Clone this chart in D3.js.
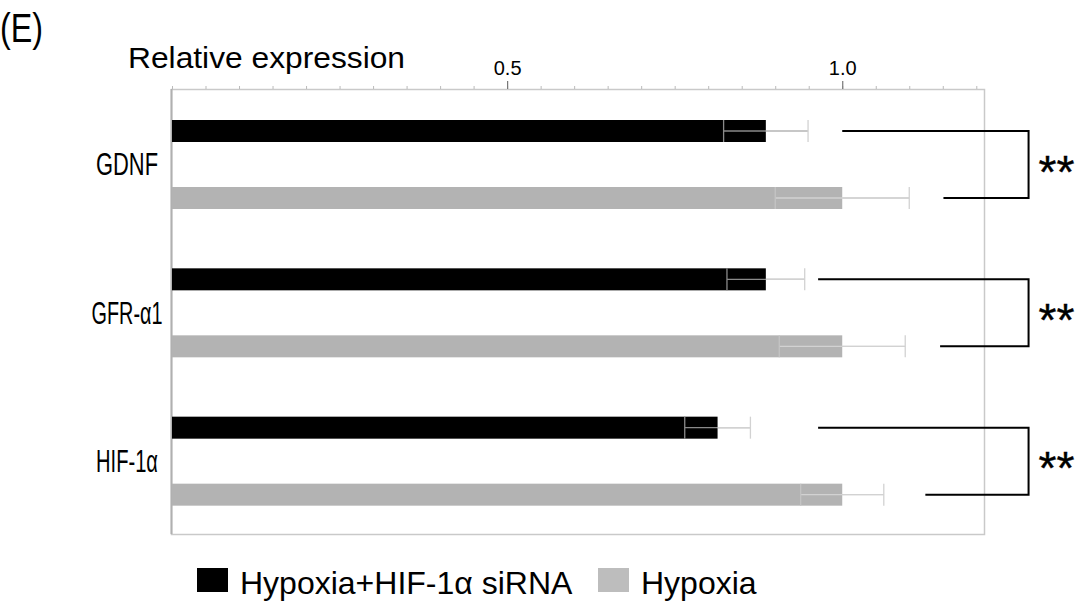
<!DOCTYPE html>
<html><head><meta charset="utf-8">
<script src="https://cdn.jsdelivr.net/npm/d3@7"></script>
<style>body{margin:0;background:#fff} svg{display:block} text{font-family:"Liberation Sans",Arial,sans-serif;fill:#000}</style>
</head><body><svg id="c" width="1081" height="606"></svg>
<script>
// ---- data ----
const categories = ["GDNF", "GFR-α1", "HIF-1α"];
const seriesNames = ["Hypoxia+HIF-1α siRNA", "Hypoxia"];
const siRNAValues = [0.886, 0.886, 0.814];
const siRNAErrors = [0.063, 0.058, 0.049];
const hypoxiaValues = [1.0, 1.0, 1.0];
const hypoxiaErrors = [0.100, 0.094, 0.062];
const majorTickValues = [0.5, 1.0];
const tickLabels = ["0.5", "1.0"];
const significance = ["**", "**", "**"];
const axisTitle = "Relative expression";
const panelLabel = "(E)";

// ---- drawing ----
const svg = d3.select("#c");
const colors = ["#000000", "#b3b3b3"];
const W = {left: 172, right: 985, top: 89, bottom: 534};
const x = d3.scaleLinear().domain([0, 1.213]).range([W.left, W.right]);
const y = d3.scaleBand().domain(categories).range([W.top, W.bottom]);
const inner = d3.scalePoint().domain(seriesNames).range([42, 109]);
const barH = 22;

const rows = [];
categories.forEach((c, i) => {
  rows.push({cat: c, s: seriesNames[0], v: siRNAValues[i], e: siRNAErrors[i], col: colors[0]});
  rows.push({cat: c, s: seriesNames[1], v: hypoxiaValues[i], e: hypoxiaErrors[i], col: colors[1]});
});
const cy = d => y(d.cat) + inner(d.s);

// frame
svg.append("rect").attr("x", W.left - 0.5).attr("y", W.top + 0.5)
  .attr("width", W.right - W.left).attr("height", W.bottom - W.top)
  .attr("fill", "#fff").attr("stroke", "#c9c9c9").attr("stroke-width", 1.5);
svg.append("line").attr("x1", W.left - 0.5).attr("x2", W.left - 0.5).attr("y1", W.top).attr("y2", W.bottom)
  .attr("stroke", "#b0b0b0").attr("stroke-width", 2);

// axis (top)
const minor = d3.range(0, 1.2001, 0.05).map(v => +v.toFixed(2));
const gMinor = svg.append("g").attr("transform", `translate(0,${W.top})`)
  .call(d3.axisTop(x).tickValues(minor).tickSize(3).tickFormat(""));
gMinor.select(".domain").remove();
gMinor.selectAll(".tick line").attr("stroke", "#bbb");
const gMajor = svg.append("g").attr("transform", `translate(0,${W.top})`)
  .call(d3.axisTop(x).tickValues(majorTickValues).tickSize(8).tickPadding(6)
    .tickFormat((d, i) => tickLabels[i]));
gMajor.select(".domain").remove();
gMajor.selectAll(".tick line").attr("stroke", "#777").attr("stroke-width", 1.2);
gMajor.selectAll(".tick text").attr("font-size", 20).attr("font-family", '"Liberation Sans",Arial,sans-serif').attr("fill", "#000");

// bars
svg.append("g").selectAll("rect").data(rows).join("rect")
  .attr("x", x(0)).attr("y", d => cy(d) - barH / 2)
  .attr("width", d => x(d.v) - x(0)).attr("height", barH)
  .attr("fill", d => d.col);

// error bars
const eg = svg.append("g").selectAll("g").data(rows).join("g");
eg.append("line").attr("x1", d => x(d.v - d.e)).attr("x2", d => x(d.v + d.e))
  .attr("y1", cy).attr("y2", cy)
  .attr("stroke", d => d.col === "#000000" ? "#8a8a8a" : "#d2d2d2").attr("stroke-width", 1.3);
eg.append("line").attr("x1", d => x(d.v - d.e)).attr("x2", d => x(d.v - d.e))
  .attr("y1", d => cy(d) - barH / 2).attr("y2", d => cy(d) + barH / 2)
  .attr("stroke", d => d.col === "#000000" ? "#8a8a8a" : "#c4c4c4").attr("stroke-width", 1.3);
eg.append("line").attr("x1", d => x(d.v) ).attr("x2", d => x(d.v + d.e))
  .attr("y1", cy).attr("y2", cy).attr("stroke", "#d2d2d2").attr("stroke-width", 1.3);
eg.append("line").attr("x1", d => x(d.v + d.e)).attr("x2", d => x(d.v + d.e))
  .attr("y1", d => cy(d) - barH / 2).attr("y2", d => cy(d) + barH / 2)
  .attr("stroke", "#d2d2d2").attr("stroke-width", 1.3);

// significance brackets (arm start positions in axis units)
const armTop = [1.0, 0.964, 0.964];
const armBottom = [1.151, 1.146, 1.124];
const bracketX = 1.278;
categories.forEach((c, i) => {
  const y1 = y(c) + inner(seriesNames[0]);
  const y2 = y(c) + inner(seriesNames[1]);
  svg.append("path")
    .attr("d", `M${x(armTop[i])},${y1}H${x(bracketX)}V${y2}H${x(armBottom[i])}`)
    .attr("fill", "none").attr("stroke", "#000").attr("stroke-width", 2);
  svg.append("text").attr("x", x(bracketX) + 10).attr("y", (y1 + y2) / 2 + 23)
    .attr("font-size", 46).attr("stroke", "#000").attr("stroke-width", 0.4)
    .text(significance[i]);
});

// category labels
const labelWidths = [62, 71, 62];
svg.append("g").selectAll("text").data(categories).join("text")
  .attr("x", 127).attr("y", d => y(d) + y.bandwidth() / 2 + 12)
  .attr("text-anchor", "middle").attr("font-size", 31)
  .attr("textLength", (d, i) => labelWidths[i]).attr("lengthAdjust", "spacingAndGlyphs")
  .text(d => d);

// titles
svg.append("text").attr("x", 0).attr("y", 42).attr("font-size", 40)
  .attr("textLength", 43).attr("lengthAdjust", "spacingAndGlyphs").text(panelLabel);
svg.append("text").attr("x", 128).attr("y", 68).attr("font-size", 30)
  .attr("textLength", 277).attr("lengthAdjust", "spacingAndGlyphs").text(axisTitle);

// legend
const lg = svg.append("g").selectAll("g").data(seriesNames).join("g")
  .attr("transform", (d, i) => `translate(${[197, 598][i]},568)`);
lg.append("rect").attr("width", 31).attr("height", 24).attr("fill", (d, i) => i ? "#bdbdbd" : "#000");
lg.append("text").attr("x", 43).attr("y", 26).attr("font-size", 32).text(d => d);
</script></body></html>
